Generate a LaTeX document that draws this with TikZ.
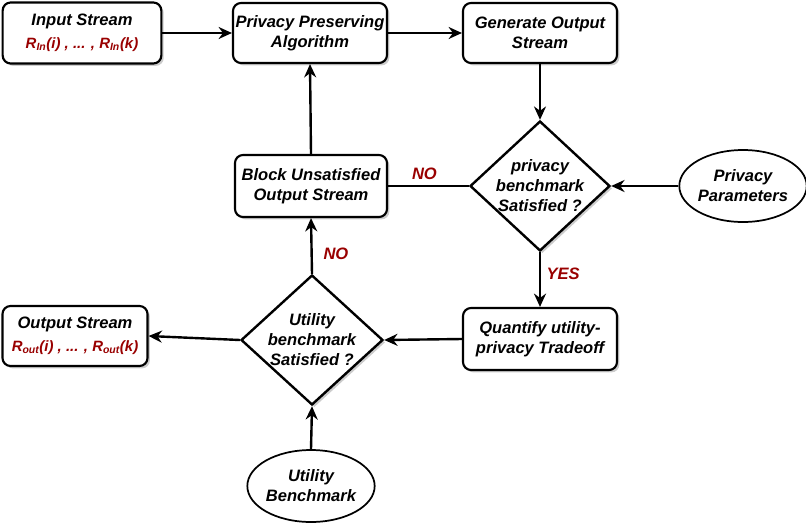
\documentclass[tikz,border=0pt]{standalone}
\usepackage{fontspec}
\setmainfont{Liberation Sans}
\usetikzlibrary{shapes.geometric,arrows.meta,shadows}
\definecolor{darkred}{HTML}{990000}
\newcommand{\redline}[1]{{\fontsize{11.2}{13}\selectfont\color{darkred}#1}}
\begin{document}
\begin{tikzpicture}[x=0.75pt,y=-0.75pt,
  font=\fontsize{12.4}{15}\selectfont\bfseries\itshape,
  shd/.style={drop shadow={shadow xshift=1.8pt,shadow yshift=-1.8pt,fill=black,opacity=0.2}},
  procbox/.style={draw,line width=1.6pt,rounded corners=6pt,fill=white,align=center,inner sep=0pt,shd},
  decide/.style={draw,diamond,line width=1.8pt,fill=white,align=center,inner sep=-5pt,minimum width=105pt,minimum height=97.5pt,shd},
  term/.style={draw,ellipse,line width=1.3pt,fill=white,align=center,inner sep=0pt,minimum width=93pt,minimum height=54pt},
  conn/.style={line width=1.8pt,-{Stealth[length=10pt,width=9pt]}},
  plain/.style={line width=1.8pt},
  lab/.style={text=darkred,inner sep=0pt}]
\useasboundingbox (0,0) rectangle (806,525);
\node[procbox,minimum width=119pt,minimum height=45.75pt] (in) at (82,33) {Input Stream\\[2pt]\redline{R\textsubscript{In}(i) , ... , R\textsubscript{In}(k)}};
\node[procbox,minimum width=115.5pt,minimum height=45pt] (ppa) at (310,33) {Privacy Preserving\\Algorithm};
\node[procbox,minimum width=115.5pt,minimum height=45pt] (gen) at (540,33) {Generate Output\\Stream};
\node[decide] (d1) at (540,186) {privacy\\benchmark\\Satisfied ?};
\node[term] (pp) at (743,186) {Privacy\\Parameters};
\node[procbox,minimum width=114pt,minimum height=46.5pt] (blk) at (311,186) {Block Unsatisfied\\Output Stream};
\node[procbox,minimum width=115.5pt,minimum height=46.5pt] (qt) at (540,339) {Quantify utility-\\privacy Tradeoff};
\node[decide,minimum width=106.5pt] (d2) at (312,340) {Utility\\benchmark\\Satisfied ?};
\node[procbox,minimum width=108.75pt,minimum height=45pt] (out) at (75,336) {Output Stream\\[2pt]\redline{R\textsubscript{out}(i) , ... , R\textsubscript{out}(k)}};
\node[term,minimum width=93.75pt] (ub) at (311,486) {Utility\\Benchmark};
\draw[conn] (in.east) -- (ppa.west);
\draw[conn] (ppa.east) -- (gen.west);
\draw[conn] (gen.south) -- (d1.north);
\draw[conn] (pp.west) -- (d1.east);
\draw[conn] (d1.south) -- node[lab,right=4pt,pos=0.4] (yes) {YES} (qt.north);
\draw[plain] (d1.west) -- node[lab,above=4pt,pos=0.55] (no1) {NO} (blk.east);
\draw[conn] (blk.north) -- (ppa.south);
\draw[conn] (qt.west) -- (d2.east);
\draw[conn] (d2.north) -- node[lab,right=8pt,pos=0.35] (no2) {NO} (blk.south);
\draw[conn] (d2.west) -- (out.east);
\draw[conn] (ub.north) -- (d2.south);
\end{tikzpicture}
\end{document}
